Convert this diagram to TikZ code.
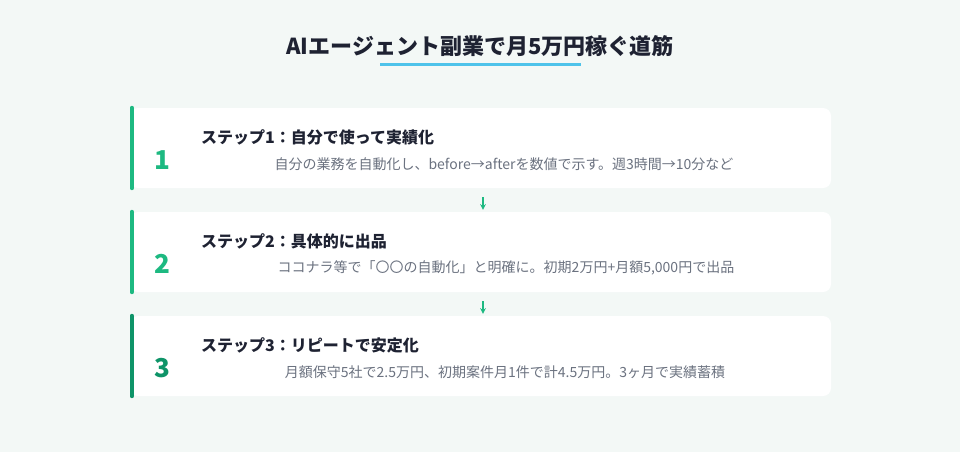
\documentclass[tikz,border=0pt]{standalone}
\usepackage{fontspec}
\setmainfont{Noto Sans CJK JP}
\definecolor{bgcol}{HTML}{F3F8F6}
\definecolor{inkcol}{HTML}{1E2232}
\definecolor{subcol}{HTML}{6B7280}
\definecolor{greencol}{HTML}{1DB981}
\definecolor{deepgreen}{HTML}{0E9468}
\definecolor{linecol}{HTML}{4EC3EA}
\tikzset{
  card/.style = {fill=white, rounded corners=8pt, minimum width=701pt, minimum height=80pt, inner sep=0pt},
  bar/.style = {line width=4pt, line cap=round},
  numtext/.style = {font=\fontsize{26}{30}\selectfont\bfseries},
  headtext/.style = {anchor=west, text=inkcol, font=\fontsize{16}{19}\selectfont\bfseries, inner sep=0pt},
  bodytext/.style = {text=subcol, font=\fontsize{14}{17}\selectfont, inner sep=0pt},
  flow/.style = {-stealth, greencol, line width=1.5pt, shorten <=9pt, shorten >=2pt}
}
\begin{document}
\begin{tikzpicture}[x=1pt, y=-1pt]
        \fill[bgcol] (0,0) rectangle (960,452);
        \useasboundingbox (0,0) rectangle (960,452);

        % heading
        \node[text=inkcol, font=\fontsize{22}{26}\selectfont\bfseries] (head) at (480,46) {AIエージェント副業で月5万円稼ぐ道筋};
        \draw[linecol, line width=3pt] (380,64) -- (581,64);

        % cards
        \node[card] (c1) at (480.5,148) {};
        \node[card] (c2) at (480.5,252) {};
        \node[card] (c3) at (480.5,356) {};

        \draw[bar, greencol] ([xshift=2pt]c1.north west) -- ([xshift=2pt]c1.south west);
        \draw[bar, greencol] ([xshift=2pt]c2.north west) -- ([xshift=2pt]c2.south west);
        \draw[bar, deepgreen] ([xshift=2pt]c3.north west) -- ([xshift=2pt]c3.south west);

        \node[numtext, text=greencol] (n1) at (162,160) {1};
        \node[numtext, text=greencol] (n2) at (162,264) {2};
        \node[numtext, text=deepgreen] (n3) at (162,368) {3};

        \node[headtext] (h1) at (201,137) {ステップ1：自分で使って実績化};
        \node[bodytext] (b1) at (504,164) {自分の業務を自動化し、before→afterを数値で示す。週3時間→10分など};

        \node[headtext] (h2) at (201,241) {ステップ2：具体的に出品};
        \node[bodytext] (b2) at (506,268) {ココナラ等で「〇〇の自動化」と明確に。初期2万円+月額5,000円で出品};

        \node[headtext] (h3) at (201,345) {ステップ3：リピートで安定化};
        \node[bodytext] (b3) at (505,372) {月額保守5社で2.5万円、初期案件月1件で計4.5万円。3ヶ月で実績蓄積};

        % arrows between the steps
        \draw[flow] (c1.south -| 483,0) -- (c2.north -| 483,0);
        \draw[flow] (c2.south -| 483,0) -- (c3.north -| 483,0);
\end{tikzpicture}
\end{document}
